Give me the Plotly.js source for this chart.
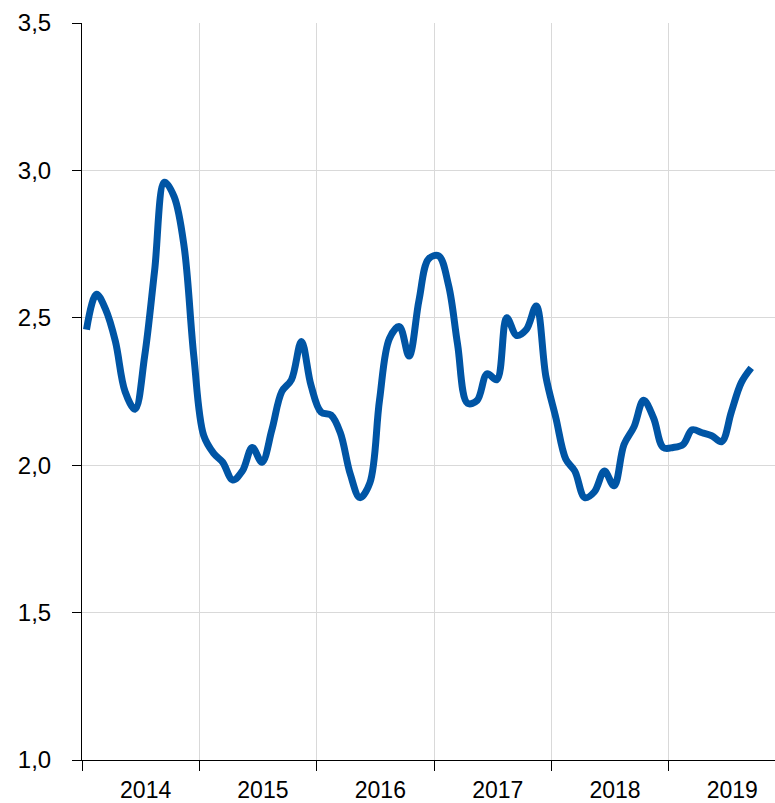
<!DOCTYPE html>
<html>
<head>
<meta charset="utf-8">
<script src="https://cdn.plot.ly/plotly-3.0.1.min.js"></script>
<style>
  html, body { margin: 0; padding: 0; background: #ffffff; }
  #chart { width: 775px; height: 803px; }
</style>
</head>
<body>
<div id="chart"></div>
<script>
// Monthly observations (mid-month), Jan 2014 – Sep 2019
const years = [2014, 2015, 2016, 2017, 2018, 2019];
const values2014 = [2.46, 2.58, 2.53, 2.42, 2.25, 2.19, 2.37, 2.66, 2.96, 2.91, 2.74, 2.37];
const values2015 = [2.10, 2.04, 2.01, 1.95, 1.98, 2.06, 2.01, 2.12, 2.25, 2.29, 2.42, 2.27];
const values2016 = [2.18, 2.17, 2.11, 1.97, 1.89, 1.94, 2.22, 2.43, 2.47, 2.37, 2.56, 2.70];
const values2017 = [2.71, 2.61, 2.41, 2.21, 2.22, 2.31, 2.29, 2.50, 2.44, 2.46, 2.54, 2.30];
const values2018 = [2.16, 2.02, 1.98, 1.89, 1.91, 1.98, 1.93, 2.07, 2.13, 2.22, 2.16, 2.06];
const values2019 = [2.06, 2.07, 2.12, 2.11, 2.10, 2.08, 2.18, 2.28, 2.33];

const yearValues = [values2014, values2015, values2016, values2017, values2018, values2019];
const dates = [];
const values = [];
yearValues.forEach((arr, i) => {
  arr.forEach((v, m) => {
    const mm = String(m + 1).padStart(2, '0');
    dates.push(years[i] + '-' + mm + '-15');
    values.push(v);
  });
});

const trace = {
  x: dates,
  y: values,
  type: 'scatter',
  mode: 'lines',
  line: { color: '#0055a5', width: 7, shape: 'spline', smoothing: 1 },
  hoverinfo: 'x+y'
};

const layout = {
  width: 775,
  height: 803,
  margin: { l: 82, r: 0, t: 23, b: 43, pad: 0 },
  paper_bgcolor: '#ffffff',
  plot_bgcolor: '#ffffff',
  separators: ', ',
  showlegend: false,
  font: { family: 'Liberation Sans, Arial, sans-serif', size: 23, color: '#000000' },
  xaxis: {
    type: 'date',
    range: ['2014-01-01', '2019-11-28'],
    tick0: '2014-01-01',
    dtick: 'M12',
    tickformat: '%Y',
    ticklabelmode: 'period',
    ticklabelshift: 5,
    ticklabelstandoff: -1,
    showgrid: true,
    gridcolor: '#d9d9d9',
    gridwidth: 1,
    showline: true,
    linecolor: '#000000',
    linewidth: 1,
    ticks: 'outside',
    ticklen: 10,
    tickcolor: '#000000',
    tickfont: { size: 23, color: '#000000' },
    zeroline: false,
    fixedrange: true
  },
  yaxis: {
    range: [1, 3.5],
    tick0: 1,
    dtick: 0.5,
    tickformat: '.1f',
    ticklabelstandoff: 16,
    showgrid: true,
    gridcolor: '#d9d9d9',
    gridwidth: 1,
    showline: true,
    linecolor: '#000000',
    linewidth: 1,
    ticks: 'outside',
    ticklen: 9,
    tickcolor: '#000000',
    tickfont: { size: 24, color: '#000000' },
    zeroline: false,
    fixedrange: true
  }
};

Plotly.newPlot('chart', [trace], layout, { displayModeBar: false, staticPlot: true });
</script>
</body>
</html>
